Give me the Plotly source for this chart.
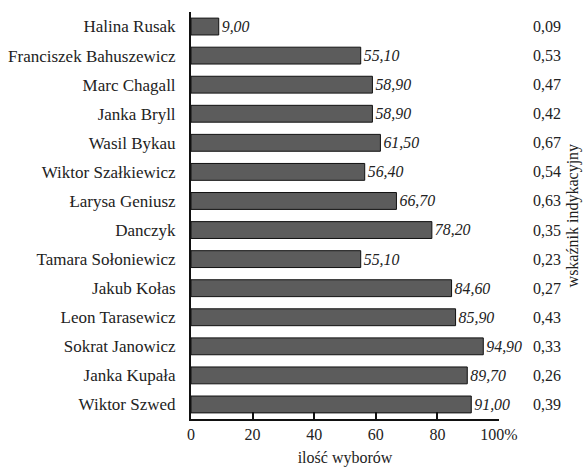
import plotly.graph_objects as go

names = [
    "Halina Rusak", "Franciszek Bahuszewicz", "Marc Chagall", "Janka Bryll",
    "Wasil Bykau", "Wiktor Szałkiewicz", "Łarysa Geniusz", "Danczyk",
    "Tamara Sołoniewicz", "Jakub Kołas", "Leon Tarasewicz", "Sokrat Janowicz",
    "Janka Kupała", "Wiktor Szwed",
]
choices = [9.00, 55.10, 58.90, 58.90, 61.50, 56.40, 66.70, 78.20,
           55.10, 84.60, 85.90, 94.90, 89.70, 91.00]
indicator = [0.09, 0.53, 0.47, 0.42, 0.67, 0.54, 0.63, 0.35,
             0.23, 0.27, 0.43, 0.33, 0.26, 0.39]
tick_vals = [0, 20, 40, 60, 80, 100]
tick_text = ["0", "20", "40", "60", "80", "100%"]

FONT = "Liberation Serif, Times New Roman, serif"
INK = "#222222"


def pl(v, d=2):
    return f"{v:.{d}f}".replace(".", ",")


fig = go.Figure(go.Bar(
    x=choices, y=names, orientation="h",
    marker=dict(color="#5c5c5c", line=dict(color="#111111", width=1)),
    width=0.58,
    text=[pl(v) for v in choices], textposition="outside",
    textfont=dict(family=FONT, size=16, color=INK, style="italic"),
    cliponaxis=False,
))

# right-hand column: indicator values
for n, v in zip(names, indicator):
    fig.add_annotation(x=1.104, y=n, xref="paper", yref="y", text=pl(v),
                       xanchor="left", showarrow=False,
                       font=dict(family=FONT, size=16, color=INK))

fig.add_annotation(x=1.24, y=0.5, xref="paper", yref="paper",
                   xanchor="center", yanchor="middle",
                   text="wskaźnik indykacyjny", textangle=-90, showarrow=False,
                   font=dict(family=FONT, size=16, color=INK))

fig.update_layout(
    width=583, height=474,
    margin=dict(l=191, r=84, t=12, b=55),
    plot_bgcolor="white", paper_bgcolor="white",
    showlegend=False,
    font=dict(family=FONT, size=16, color=INK),
    xaxis=dict(range=[0, 100], tickvals=tick_vals, ticktext=tick_text,
               ticks="inside", ticklen=7, tickcolor="#111111", tickwidth=2,
               showline=True, linecolor="#111111", linewidth=2,
               showgrid=False, zeroline=False, automargin=False,
               tickfont=dict(family=FONT, size=16),
               title=dict(text="ilość wyborów", standoff=10,
                          font=dict(family=FONT, size=16))),
    yaxis=dict(categoryorder="array", categoryarray=names, autorange="reversed",
               showline=True, linecolor="#111111", linewidth=2,
               ticks="", showgrid=False, ticklabelstandoff=10, automargin=False,
               tickfont=dict(family=FONT, size=17)),
    bargap=0.4,
)

# the page body has an 8px default margin; drop it so the figure sits at 0,0
fig.write_html("out.html", config={"displayModeBar": False},
               post_script="document.body.style.margin='0';")
